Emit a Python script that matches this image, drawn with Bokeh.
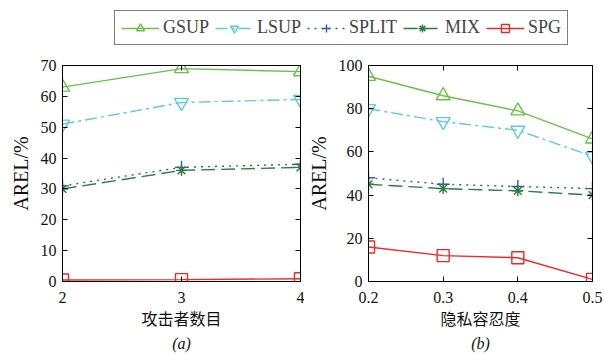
from bokeh.plotting import figure
from bokeh.layouts import column, row
from bokeh.models import Range1d, Legend, LegendItem, LinearAxis, Title, FixedTicker
from bokeh.embed import file_html
from bokeh.resources import INLINE

# ---- data ----
series = ["GSUP", "LSUP", "SPLIT", "MIX", "SPG"]
x_a = [2, 3, 4]
gsup_a = [63, 69, 68]
lsup_a = [51, 58, 59]
split_a = [31, 37, 38]
mix_a = [30, 36, 37]
spg_a = [0.5, 0.6, 0.9]

x_b = [0.2, 0.3, 0.4, 0.5]
gsup_b = [95, 86, 79, 66]
lsup_b = [80, 74, 70, 58]
split_b = [48, 45, 44, 43]
mix_b = [45, 43, 42, 40]
spg_b = [16, 12, 11, 1]

xticks_a = [2, 3, 4]
yticks_a = [0, 10, 20, 30, 40, 50, 60, 70]
xticks_b = [0.2, 0.3, 0.4, 0.5]
yticks_b = [0, 20, 40, 60, 80, 100]

xlabel_a = "攻击者数目"
xlabel_b = "隐私容忍度"
ylabel = "AREL/%"
sub_a = "(a)"
sub_b = "(b)"

SERIF = "Liberation Serif"
CJK = "Noto Sans CJK SC"

styles = {
    "GSUP": dict(color="#6cc04a", dash="solid", marker="triangle", size=14),
    "LSUP": dict(color="#5ccbdc", dash="12 4 3 4", marker="inverted_triangle", size=14),
    "SPLIT": dict(color="#2a5cb8", dash="2 5", marker="cross", size=13),
    "MIX": dict(color="#2e7d3a", dash="14 6", marker="asterisk", size=11),
    "SPG": dict(color="#f02828", dash="solid", marker="square", size=12),
}


def style_axis(ax, show_labels=True):
    ax.axis_line_color = "black"
    ax.axis_line_width = 1
    ax.major_tick_in = 5
    ax.major_tick_out = 0
    ax.minor_tick_in = 0
    ax.minor_tick_out = 0
    ax.major_tick_line_color = "black"
    ax.major_label_text_font = SERIF
    ax.major_label_text_font_size = "16px"
    ax.major_label_text_color = "#111111"
    if not show_labels:
        ax.major_label_text_font_size = "0px"
        ax.major_label_text_color = None
        ax.major_label_standoff = 0


def make_panel(xs, data, xr, yr, xticks, yticks, xlabel, sub, width, bl, br, bt, bb, height):
    p = figure(width=width, height=height, x_range=Range1d(*xr), y_range=Range1d(*yr),
               output_backend="svg", toolbar_location=None,
               min_border_left=bl, min_border_right=br, min_border_top=bt, min_border_bottom=bb)
    p.xgrid.visible = False
    p.ygrid.visible = False
    p.outline_line_color = "black"
    p.outline_line_width = 1
    p.background_fill_color = "white"
    p.border_fill_color = "white"
    for name, ys in zip(series, data):
        s = styles[name]
        p.line(xs, ys, line_color=s["color"], line_width=1.4, line_dash=s["dash"])
        p.scatter(xs, ys, marker=s["marker"], size=s["size"], line_color=s["color"],
                  fill_color=None, line_width=1.4)
    xa = p.xaxis[0]
    ya = p.yaxis[0]
    style_axis(xa)
    style_axis(ya)
    xa.ticker = FixedTicker(ticks=xticks)
    ya.ticker = FixedTicker(ticks=yticks)
    xa.major_label_standoff = 10
    ya.major_label_standoff = 6
    xa.axis_label = xlabel
    xa.axis_label_text_font = CJK
    xa.axis_label_text_font_size = "16px"
    xa.axis_label_text_font_style = "normal"
    xa.axis_label_text_color = "#111111"
    xa.axis_label_standoff = 0
    ya.axis_label = ylabel
    ya.axis_label_text_font = SERIF
    ya.axis_label_text_font_size = "20px"
    ya.axis_label_text_font_style = "normal"
    ya.axis_label_text_color = "#111111"
    ya.axis_label_standoff = 6
    ra = LinearAxis(ticker=FixedTicker(ticks=yticks))
    style_axis(ra, False)
    p.add_layout(ra, "right")
    ta = LinearAxis(ticker=FixedTicker(ticks=xticks))
    style_axis(ta, False)
    p.add_layout(ta, "above")
    t = Title(text=sub, align="center", text_font=SERIF, text_font_size="16px",
              text_font_style="italic", text_color="#111111", standoff=0, offset=0)
    p.add_layout(t, "below")
    return p


pa = make_panel(x_a, [gsup_a, lsup_a, split_a, mix_a, spg_a], (2, 4), (0, 70),
                xticks_a, yticks_a, xlabel_a, sub_a, 304, 62, 4, 10, 73, 301)
pb = make_panel(x_b, [gsup_b, lsup_b, split_b, mix_b, spg_b], (0.2, 0.5), (0, 100),
                xticks_b, yticks_b, xlabel_b, sub_b, 300, 54, 12, 12, 72, 301)

# legend figure
pl = figure(width=604, height=53, x_range=Range1d(0, 1), y_range=Range1d(0, 1),
            output_backend="svg", toolbar_location=None, min_border=0)
pl.axis.visible = False
pl.grid.visible = False
pl.outline_line_color = None
items = []
for name in series:
    s = styles[name]
    r1 = pl.line([-5, -4], [-5, -4], line_color=s["color"], line_width=1.4, line_dash=s["dash"])
    r2 = pl.scatter([-5], [-5], marker=s["marker"], size=s["size"], line_color=s["color"],
                    fill_color=None, line_width=1.4)
    items.append(LegendItem(label=name, renderers=[r1, r2]))
leg = Legend(items=items, orientation="horizontal", location=(114, 8),
             label_text_font=SERIF, label_text_font_size="18px", label_standoff=4,
             glyph_width=38, glyph_height=20, spacing=6, padding=6, margin=0,
             border_line_color="black", border_line_width=1.2,
             label_height=20)
pl.add_layout(leg, "center")

layout = column(pl, row(pa, pb, spacing=0), spacing=0)
open("out.html", "w").write(file_html(layout, INLINE))
